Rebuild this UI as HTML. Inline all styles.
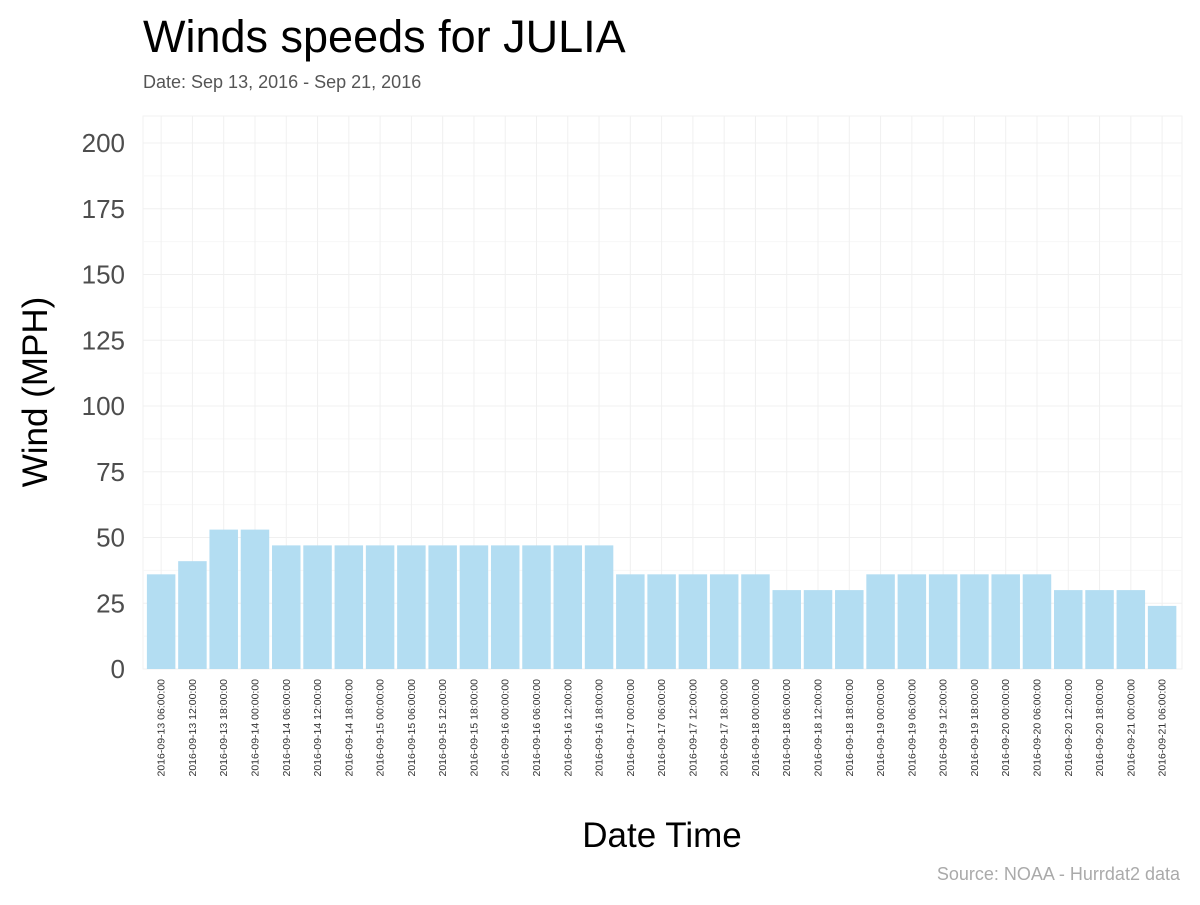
<!DOCTYPE html>
<html><head><meta charset="utf-8"><style>
body{margin:0;background:#fff;}
svg text{font-family:"Liberation Sans",sans-serif;}
</style></head><body>
<svg id="chart" width="1200" height="900">
<text x="143" y="52" font-size="45" fill="#000">Winds speeds for JULIA</text>
<text x="143" y="88" font-size="18" fill="#555">Date:  Sep 13, 2016 - Sep 21, 2016</text>
<rect x="143" y="116" width="1039" height="553" fill="none" stroke="#f2f2f2"/>
<g id="grid"></g><g id="bars"></g><g id="yticks"></g><g id="xticks"></g>
<text transform="translate(47,392) rotate(-90)" text-anchor="middle" font-size="35" fill="#000">Wind (MPH)</text>
<text x="662" y="847" text-anchor="middle" font-size="35" fill="#000">Date Time</text>
<text x="1180" y="880" text-anchor="end" font-size="18" fill="#aaa">Source: NOAA - Hurrdat2 data</text>
</svg>
<script>
const categories=["2016-09-13 06:00:00","2016-09-13 12:00:00","2016-09-13 18:00:00","2016-09-14 00:00:00","2016-09-14 06:00:00","2016-09-14 12:00:00","2016-09-14 18:00:00","2016-09-15 00:00:00","2016-09-15 06:00:00","2016-09-15 12:00:00","2016-09-15 18:00:00","2016-09-16 00:00:00","2016-09-16 06:00:00","2016-09-16 12:00:00","2016-09-16 18:00:00","2016-09-17 00:00:00","2016-09-17 06:00:00","2016-09-17 12:00:00","2016-09-17 18:00:00","2016-09-18 00:00:00","2016-09-18 06:00:00","2016-09-18 12:00:00","2016-09-18 18:00:00","2016-09-19 00:00:00","2016-09-19 06:00:00","2016-09-19 12:00:00","2016-09-19 18:00:00","2016-09-20 00:00:00","2016-09-20 06:00:00","2016-09-20 12:00:00","2016-09-20 18:00:00","2016-09-21 00:00:00","2016-09-21 06:00:00"];
const windValues=[36,41,53,53,47,47,47,47,47,47,47,47,47,47,47,36,36,36,36,36,30,30,30,36,36,36,36,36,36,30,30,30,24];
const yTicks=[0,25,50,75,100,125,150,175,200];
const NS="http://www.w3.org/2000/svg";
const x0=145.5,step=31.28,bw=28.5;
function xScale(i){return x0+i*step+step/2;}
function yScale(v){return 669-v*(526/200);}
function mk(t,a,p){const e=document.createElementNS(NS,t);for(const k in a)e.setAttribute(k,a[k]);document.getElementById(p).appendChild(e);return e;}
yTicks.forEach((t,i)=>{
  const l=mk("line",{x1:143,x2:1182,y1:yScale(t),y2:yScale(t),stroke:"#f0f0f0","stroke-width":1},"grid");
  
  
  if(i<yTicks.length-1){const m=mk("line",{x1:143,x2:1182,y1:yScale(t+12.5),y2:yScale(t+12.5),stroke:"#f7f7f7","stroke-width":1},"grid");
  
  }
  const tx=mk("text",{x:125,y:yScale(t)+9,"text-anchor":"end","font-size":26,fill:"#4d4d4d"},"yticks");
  tx.textContent=t;
  
  
});
categories.forEach((c,i)=>{
  const g=mk("line",{x1:xScale(i),x2:xScale(i),y1:116,y2:669,stroke:"#f0f0f0"},"grid");
  
  
  const r=mk("rect",{x:xScale(i)-bw/2,y:yScale(windValues[i]),width:bw,height:669-yScale(windValues[i]),fill:"#b3ddf2"},"bars");
  
  
  const t=mk("text",{transform:`translate(${xScale(i)+3.5},679) rotate(-90)`,"text-anchor":"end","font-size":10.5,fill:"#333"},"xticks");
  t.textContent=c;
  
  
});
</script>
</body></html>
